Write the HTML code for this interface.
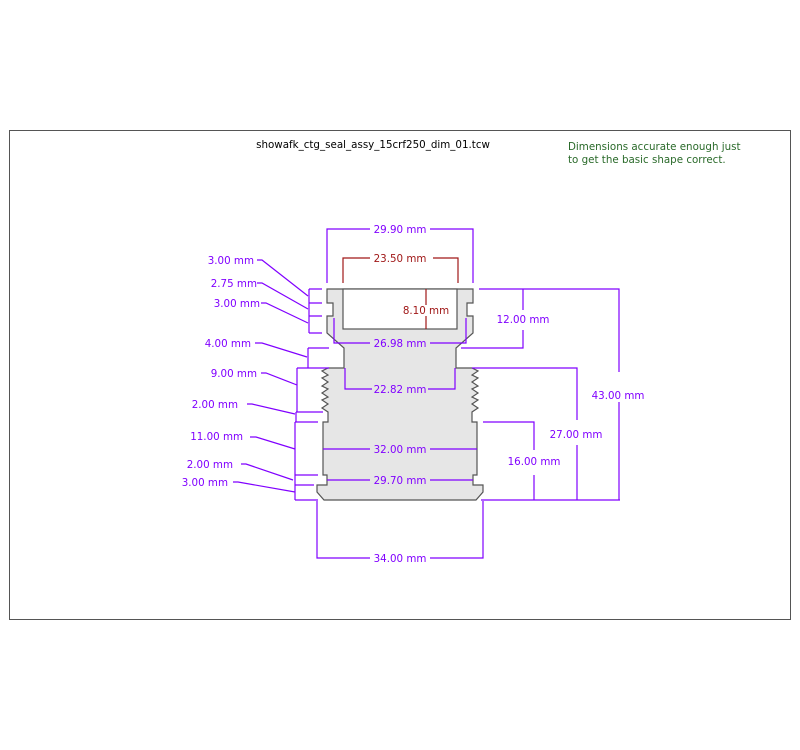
<!DOCTYPE html>
<html><head><style>
body{margin:0;background:#fff}
svg{display:block}
text{font-family:"DejaVu Sans","Liberation Sans",sans-serif;font-size:10.3px}
.p{fill:#8000ff}.r{fill:#a01818}
</style></head><body>
<svg width="800" height="750" viewBox="0 0 800 750">
<rect x="9.5" y="130.5" width="781" height="489" fill="none" stroke="#555"/>
<text x="373" y="148" text-anchor="middle" fill="#000">showafk_ctg_seal_assy_15crf250_dim_01.tcw</text>
<text x="568" y="150" fill="#2a6a2a">Dimensions accurate enough just</text>
<text x="568" y="163" fill="#2a6a2a">to get the basic shape correct.</text>

<path d="M327,289 L473,289 L473,303 L467,303 L467,316 L473,316 L473,333 L456,348 L456,368 L472,368 L478,371 L472,375 L478,378 L472,382 L478,386 L472,389 L478,393 L472,397 L478,400 L472,404 L478,408 L472,412 L472,422 L477,422 L477,475 L473,475 L473,485 L483,485 L483,492 L476,500 L324,500 L317,492 L317,485 L327,485 L327,475 L323,475 L323,422 L328,422 L328,412 L322,408 L328,404 L322,400 L328,397 L322,393 L328,389 L322,386 L328,382 L322,378 L328,375 L322,371 L328,368 L344,368 L344,348 L327,333 L327,316 L333,316 L333,303 L327,303 Z" fill="#e6e6e6" stroke="#555" stroke-width="1.2"/>
<rect x="343" y="289" width="114" height="40" fill="#fff" stroke="#555" stroke-width="1.2"/>

<g stroke="#8000ff" stroke-width="1.2" fill="none">
<path d="M327,283 V229 H370 M430,229 H473 V283"/>
<path d="M334,318 V343 H370 M430,343 H466 V318"/>
<path d="M345,368 V389 H372 M428,389 H455 V368"/>
<path d="M323,449 H370 M430,449 H477"/>
<path d="M327,480 H370 M430,480 H473"/>
<path d="M317,501 V558 H370 M430,558 H483 V501"/>
<path d="M309,289 V333 M309,289 H322 M309,303 H322 M309,316 H322 M309,333 H322"/>
<path d="M308,348 V368 M308,348 H329 M297,368 H329 M297,368 V412 M296,412 H323 M296,412 V422 M295,422 H318 M295,422 V500 M295,475 H318 M295,485 H314 M295,500 H318"/>
<path d="M257,260 H262 L308,296 M257,283 H262 L308,309 M261,303 H266 L308,323 M255,343 H262 L307,357 M261,373 H266 L297,385 M247,404 H252 L295,414 M250,437 H256 L295,449 M241,464 H246 L293,480 M233,482 H238 L295,492"/>
<path d="M479,289 H619 V372 M619,402 V500 M523,289 V310 M523,330 V348 H461 M472,368 H577 V420 M577,445 V500 M483,422 H534 V450 M534,475 V500 M481,500 H620"/>
</g>
<g stroke="#a01818" stroke-width="1.2" fill="none">
<path d="M343,283 V258 H370 M433,258 H458 V283"/>
<path d="M426,289 V305 M426,316 V329"/>
</g>

<g class="p">
<text x="400" y="233" text-anchor="middle">29.90 mm</text>
<text x="400" y="347" text-anchor="middle">26.98 mm</text>
<text x="400" y="393" text-anchor="middle">22.82 mm</text>
<text x="400" y="453" text-anchor="middle">32.00 mm</text>
<text x="400" y="484" text-anchor="middle">29.70 mm</text>
<text x="400" y="562" text-anchor="middle">34.00 mm</text>
<text x="254" y="264" text-anchor="end">3.00 mm</text>
<text x="257" y="287" text-anchor="end">2.75 mm</text>
<text x="260" y="307" text-anchor="end">3.00 mm</text>
<text x="251" y="347" text-anchor="end">4.00 mm</text>
<text x="257" y="377" text-anchor="end">9.00 mm</text>
<text x="238" y="408" text-anchor="end">2.00 mm</text>
<text x="243" y="440" text-anchor="end">11.00 mm</text>
<text x="233" y="468" text-anchor="end">2.00 mm</text>
<text x="228" y="486" text-anchor="end">3.00 mm</text>
<text x="523" y="323" text-anchor="middle">12.00 mm</text>
<text x="618" y="399" text-anchor="middle">43.00 mm</text>
<text x="576" y="438" text-anchor="middle">27.00 mm</text>
<text x="534" y="465" text-anchor="middle">16.00 mm</text>
</g>
<g class="r">
<text x="400" y="262" text-anchor="middle">23.50 mm</text>
<text x="426" y="314" text-anchor="middle">8.10 mm</text>
</g>
</svg>
</body></html>
